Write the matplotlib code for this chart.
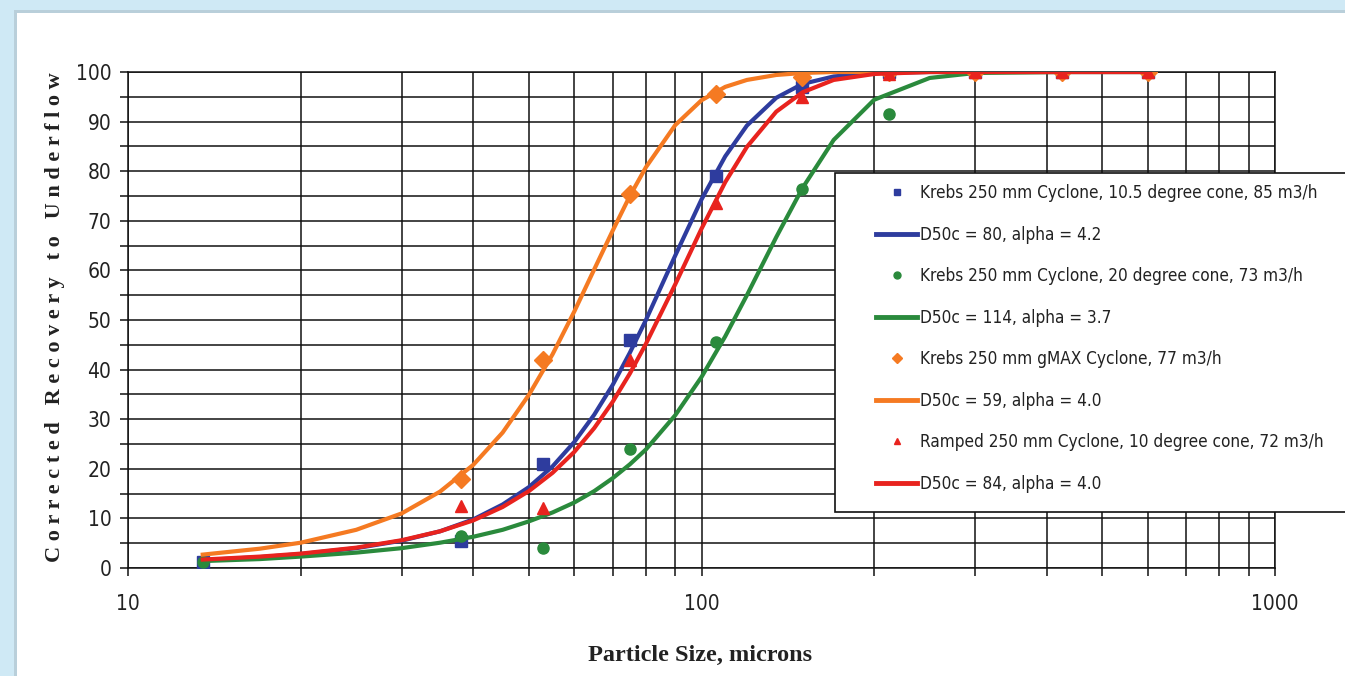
import matplotlib
matplotlib.use("Agg")
import numpy as np
import matplotlib.pyplot as plt
from matplotlib import font_manager
from matplotlib.patches import Rectangle
from matplotlib.lines import Line2D
from matplotlib.ticker import FixedLocator, NullFormatter, MultipleLocator

# sieve sizes (microns) for the measured points
sizes = [13.5, 38, 53, 75, 106, 150, 212, 300, 425, 600]

blue_pts = [1.2, 5.5, 21, 46, 79, 97, 100, 100, 100, 100]
green_pts = [1.3, 6.5, 4.0, 24, 45.5, 76.5, 91.5, 100, 100, 100]
orange_pts = [2.7, 18, 42, 75.5, 95.5, 99, 100, 100, 100, 100]
red_pts = [1.6, 12.5, 12, 42, 73.5, 95, 99.5, 100, 100, 100]

# fitted curves
curve_x = [13.5, 17, 20, 25, 30, 35, 40, 45, 50, 55, 60, 65, 70, 75, 80,
           90, 100, 110, 120, 135, 150, 170, 200, 250, 300, 425, 600]
blue_fit = [1.6, 2.2, 2.8, 4.0, 5.5, 7.4, 9.8, 12.8, 16.3, 20.5, 25.4, 30.9,
            36.9, 43.4, 50.0, 63.0, 74.3, 83.0, 89.2, 94.8, 97.6, 99.1, 99.8,
            100, 100, 100, 100]
green_fit = [1.4, 1.8, 2.3, 3.1, 4.0, 5.1, 6.3, 7.7, 9.4, 11.2, 13.2, 15.5,
             18.1, 20.9, 23.9, 30.8, 38.5, 46.7, 55.0, 66.7, 76.6, 86.3, 94.4,
             98.8, 99.8, 100, 100]
orange_fit = [2.7, 3.9, 5.1, 7.7, 11.0, 15.4, 20.8, 27.3, 34.9, 43.1, 51.7,
              60.2, 68.0, 75.0, 80.8, 89.3, 94.3, 97.0, 98.4, 99.4, 99.8, 100,
              100, 100, 100, 100, 100]
red_fit = [1.7, 2.3, 2.9, 4.1, 5.6, 7.4, 9.6, 12.3, 15.5, 19.2, 23.4, 28.2,
           33.5, 39.2, 45.2, 57.2, 68.4, 77.8, 84.9, 92.0, 95.9, 98.4, 99.6,
           100, 100, 100, 100]

labels_pts = ["Krebs 250 mm Cyclone, 10.5 degree cone, 85 m3/h",
              "Krebs 250 mm Cyclone, 20 degree cone, 73 m3/h",
              "Krebs 250 mm gMAX Cyclone, 77 m3/h",
              "Ramped 250 mm Cyclone, 10 degree cone, 72 m3/h"]
labels_fit = ["D50c = 80, alpha = 4.2",
              "D50c = 114, alpha = 3.7",
              "D50c = 59, alpha = 4.0",
              "D50c = 84, alpha = 4.0"]

c_blue = "#2e3c9e"
c_green = "#2a8a3c"
c_orange = "#f57a22"
c_red = "#e8231e"


def narrow_font(size):
    # look for an Arial-Narrow-like face, else fall back to Liberation Sans
    for f in font_manager.fontManager.ttflist:
        if f.name == "Liberation Sans Narrow" and f.weight in (400, "normal") \
                and f.style == "normal":
            return font_manager.FontProperties(fname=f.fname, size=size)
    for f in font_manager.fontManager.ttflist:
        if f.name == "DejaVu Sans" and "condensed" in str(f.stretch) \
                and f.weight in (400, "normal", "book") and f.style == "normal":
            return font_manager.FontProperties(fname=f.fname, size=size)
    return font_manager.FontProperties(family="Liberation Sans", size=size * 0.92)


serif = ["Liberation Serif", "DejaVu Serif"]

W, H = 1345, 676
fig = plt.figure(figsize=(W / 100, H / 100), dpi=100)
fig.patch.set_facecolor("#cfe9f5")
# shadow + white panel
fig.patches.append(Rectangle((14 / W, 0), 1, 1 - 10 / H, transform=fig.transFigure,
                             facecolor="#b9cfda", edgecolor="none", zorder=-3))
fig.patches.append(Rectangle((17 / W, 0), 1, 1 - 13 / H, transform=fig.transFigure,
                             facecolor="white", edgecolor="none", zorder=-2))

ax = fig.add_axes([128 / W, 1 - 568 / H, (1275 - 128) / W, (568 - 72) / H])
ax.set_facecolor("white")

ax.plot(sizes, blue_pts, "s", color=c_blue, ms=8.5, zorder=3)
ax.plot(curve_x, blue_fit, "-", color=c_blue, lw=3, zorder=3)
ax.plot(sizes, green_pts, "o", color=c_green, ms=8, zorder=3)
ax.plot(curve_x, green_fit, "-", color=c_green, lw=3, zorder=3)
ax.plot(sizes[1:], orange_pts[1:], "D", color=c_orange, ms=9, zorder=4)
ax.plot(curve_x, orange_fit, "-", color=c_orange, lw=3, zorder=4)
ax.plot(sizes[1:], red_pts[1:], "^", color=c_red, ms=9, zorder=5)
ax.plot(curve_x, red_fit, "-", color=c_red, lw=3, zorder=5)

ax.set_xscale("log")
ax.set_xlim(10, 1000)
ax.set_ylim(0, 100)
ax.xaxis.set_major_locator(FixedLocator([10, 100, 1000]))
ax.xaxis.set_minor_locator(FixedLocator([20, 30, 40, 50, 60, 70, 80, 90,
                                         200, 300, 400, 500, 600, 700, 800, 900]))
ax.xaxis.set_minor_formatter(NullFormatter())
ax.set_xticklabels(["10", "100", "1000"])
ax.yaxis.set_major_locator(MultipleLocator(10))
ax.yaxis.set_minor_locator(MultipleLocator(5))

ax.grid(True, which="both", color="#111111", lw=1.1, zorder=1)
ax.set_axisbelow(True)
for s in ax.spines.values():
    s.set_color("#111111")
    s.set_linewidth(1.1)

ax.tick_params(axis="both", which="both", direction="out", length=6, width=1.1,
               color="#111111")
ax.tick_params(axis="x", which="major", pad=13)
ax.tick_params(axis="y", which="major", pad=6)
tick_fp = narrow_font(15)
for t in ax.get_xticklabels() + ax.get_yticklabels():
    t.set_fontproperties(tick_fp)
    t.set_color("#222222")

ylab = "   ".join(" ".join(w) for w in "Corrected Recovery to Underflow".split())
fig.text(55 / W, 1 - 317 / H, ylab, rotation=90, ha="center", va="center",
         family=serif, fontweight="bold", fontsize=16, color="#222222")
fig.text(700 / W, 1 - 655 / H, "Particle Size, microns", ha="center", va="center",
         family=serif, fontweight="bold", fontsize=17.5, color="#222222")

# legend
handles = []
for col, mk, lp, lf in zip([c_blue, c_green, c_orange, c_red], ["s", "o", "D", "^"],
                           labels_pts, labels_fit):
    handles.append(Line2D([], [], ls="none", marker=mk, color=col, ms=5, label=lp))
    handles.append(Line2D([], [], ls="-", color=col, lw=3.5, label=lf))

fig.patches.append(Rectangle((835 / W, 1 - 512 / H), 600 / W, (512 - 173) / H,
                             transform=fig.transFigure, facecolor="white",
                             edgecolor="#111111", lw=1.2, zorder=6))
leg = fig.legend(handles=handles, loc="upper left",
                 bbox_to_anchor=(876 / W, 1 - 184 / H), frameon=False,
                 prop=narrow_font(12.3), labelspacing=1.38,
                 handlelength=2.4, handletextpad=0.15, borderpad=0, borderaxespad=0)
leg.set_zorder(7)
for t in leg.get_texts():
    t.set_color("#222222")

fig.savefig("out.png", dpi=100, facecolor=fig.get_facecolor())
